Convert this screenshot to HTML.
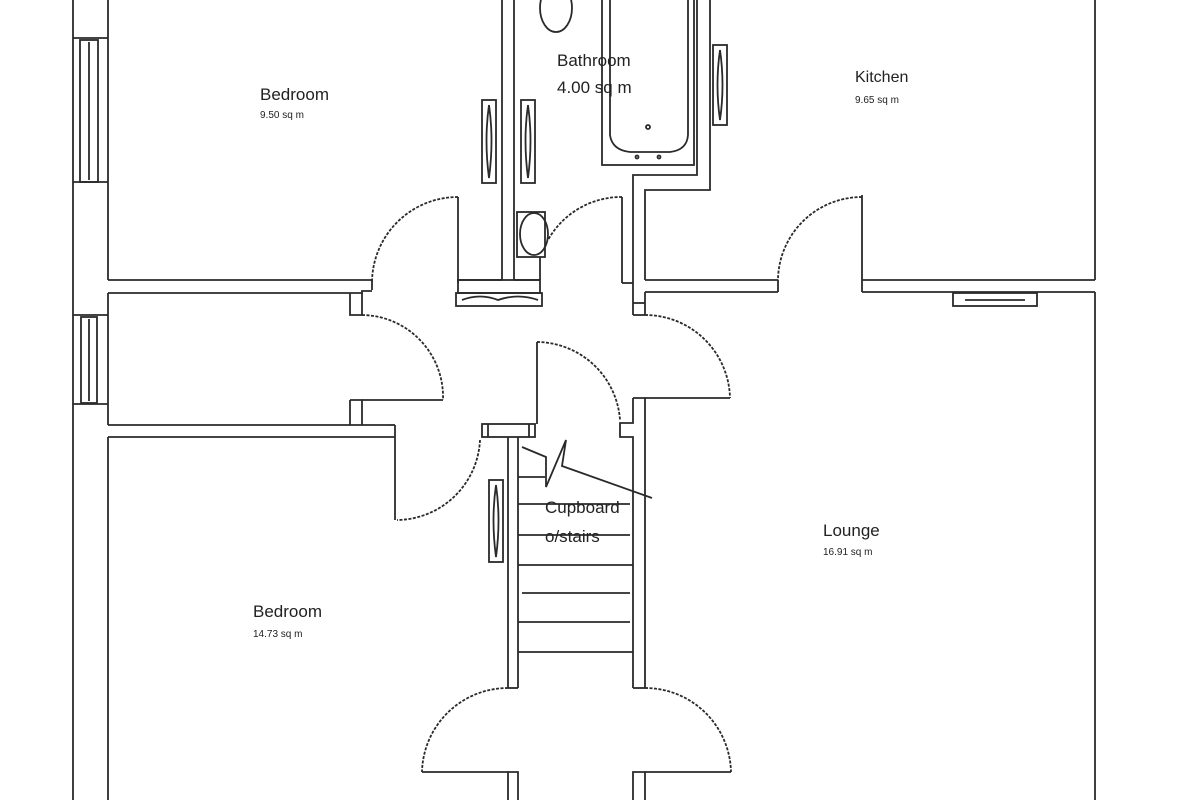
<!DOCTYPE html>
<html><head><meta charset="utf-8"><style>
html,body{margin:0;padding:0;background:#fff;}
svg{display:block;}
text{font-family:"Liberation Sans",sans-serif;fill:#222;}
</style></head><body>
<svg width="1200" height="800" viewBox="0 0 1200 800" xmlns="http://www.w3.org/2000/svg">
<g fill="none" stroke="#2a2a2a" stroke-width="1.8">
<!-- outer left wall -->
<line x1="73" y1="0" x2="73" y2="800"/>
<line x1="108" y1="0" x2="108" y2="280"/>
<line x1="108" y1="293" x2="108" y2="425"/>
<line x1="108" y1="437" x2="108" y2="800"/>
<line x1="73" y1="182" x2="108" y2="182"/>
<line x1="73" y1="38" x2="108" y2="38"/>
<rect x="80" y="40" width="18" height="142"/>
<line x1="89" y1="42" x2="89" y2="180"/>
<line x1="73" y1="315" x2="108" y2="315"/>
<line x1="73" y1="404" x2="108" y2="404"/>
<rect x="81" y="317" width="16" height="86"/>
<line x1="89" y1="319" x2="89" y2="401"/>
<!-- bedroom1 bottom -->
<polyline points="108,280 372,280 372,290"/>
<polyline points="108,293 362,293 362,291 372,291"/>
<polyline points="350,293 350,315 362,315 362,293"/>
<!-- bedroom1 door -->
<line x1="458" y1="197" x2="458" y2="283"/>
<path d="M458,197 A86,86 0 0 0 372,283" stroke-dasharray="3,1.5"/>
<!-- bedroom/bathroom walls -->
<line x1="502" y1="0" x2="502" y2="280"/>
<line x1="514" y1="0" x2="514" y2="280"/>
<line x1="458" y1="280" x2="502" y2="280"/>
<line x1="514" y1="280" x2="540" y2="280"/>
<rect x="458" y="280" width="82" height="13"/>
<rect x="456" y="293" width="86" height="13"/>
<path d="M462,300 Q480,293 498,300 Q518,293 538,300"/>
<!-- radiators in bedroom/bath -->
<rect x="482" y="100" width="14" height="83"/>
<path d="M489,105 Q484,140 489,178 Q494,140 489,105"/>
<rect x="521" y="100" width="14" height="83"/>
<path d="M528,105 Q523,140 528,178 Q533,140 528,105"/>
<!-- sink -->
<rect x="517" y="212" width="28" height="45"/>
<ellipse cx="534" cy="234" rx="14" ry="21"/>
<!-- bathroom door -->
<line x1="622" y1="197" x2="622" y2="283"/>
<path d="M622,197 A84,84 0 0 0 548,240" stroke-dasharray="3,1.5"/>
<line x1="540" y1="257" x2="540" y2="280"/>
<!-- toilet -->
<ellipse cx="556" cy="8" rx="16" ry="24"/>
<!-- bath -->
<rect x="602" y="-5" width="92" height="170"/>
<path d="M610,0 L610,135 Q612,150 630,152 L670,152 Q687,150 688,135 L688,0"/>
<circle cx="648" cy="127" r="2"/>
<circle cx="637" cy="157" r="1.5"/><circle cx="659" cy="157" r="1.5"/>
<!-- bathroom right wall / step -->
<polyline points="697,0 697,175 633,175 633,315"/>
<polyline points="710,0 710,190 645,190 645,280"/>
<rect x="713" y="45" width="14" height="80"/>
<path d="M720,50 Q715,85 720,120 Q725,85 720,50"/>
<line x1="622" y1="283" x2="633" y2="283"/>
<line x1="633" y1="303" x2="645" y2="303"/>
<line x1="633" y1="315" x2="645" y2="315"/>
<line x1="645" y1="292" x2="645" y2="315"/>
<!-- kitchen bottom -->
<line x1="645" y1="280" x2="778" y2="280"/>
<line x1="645" y1="292" x2="778" y2="292"/>
<line x1="778" y1="280" x2="778" y2="292"/>
<line x1="862" y1="195" x2="862" y2="292"/>
<path d="M862,197 A84,84 0 0 0 778,280" stroke-dasharray="3,1.5"/>
<line x1="862" y1="280" x2="1095" y2="280"/>
<line x1="862" y1="292" x2="1095" y2="292"/>
<line x1="1095" y1="0" x2="1095" y2="280"/>
<line x1="1095" y1="292" x2="1095" y2="800"/>
<rect x="953" y="293" width="84" height="13"/>
<line x1="965" y1="300" x2="1025" y2="300"/>
<!-- lounge door -->
<path d="M645,315 A85,85 0 0 1 730,398" stroke-dasharray="3,1.5"/>
<line x1="645" y1="398" x2="730" y2="398"/>
<polyline points="633,398 645,398 645,688"/>
<polyline points="633,398 633,423 620,423 620,437 633,437 633,688"/>
<line x1="633" y1="688" x2="645" y2="688"/>
<!-- middle room door -->
<path d="M362,315 A82,82 0 0 1 443,400" stroke-dasharray="3,1.5"/>
<line x1="362" y1="400" x2="443" y2="400"/>
<polyline points="350,400 362,400 362,425"/>
<polyline points="350,400 350,425"/>
<line x1="108" y1="425" x2="388" y2="425"/>
<line x1="108" y1="437" x2="395" y2="437"/>
<line x1="388" y1="425" x2="395" y2="425"/>
<!-- bedroom2 door -->
<line x1="395" y1="425" x2="395" y2="520"/>
<path d="M480,440 A84,84 0 0 1 397,520" stroke-dasharray="3,1.5"/>
<!-- stair T -->
<rect x="482" y="424" width="53" height="13"/>
<line x1="488" y1="424" x2="488" y2="437"/><line x1="529" y1="424" x2="529" y2="437"/>
<line x1="508" y1="437" x2="508" y2="688"/>
<line x1="518" y1="437" x2="518" y2="688"/>
<line x1="508" y1="688" x2="518" y2="688"/>
<!-- closet door -->
<line x1="537" y1="342" x2="537" y2="424"/>
<path d="M537,342 A84,84 0 0 1 620,420" stroke-dasharray="3,1.5"/>
<!-- stair treads -->
<line x1="518" y1="477" x2="545" y2="477"/>
<line x1="518" y1="504" x2="630" y2="504"/>
<line x1="518" y1="535" x2="630" y2="535"/>
<line x1="518" y1="565" x2="633" y2="565"/>
<line x1="522" y1="593" x2="630" y2="593"/>
<line x1="518" y1="622" x2="630" y2="622"/>
<line x1="518" y1="652" x2="633" y2="652"/>
<polyline points="522,447 546,457 546,487 566,440 562,466 652,498"/>
<!-- radiator by stairs -->
<rect x="489" y="480" width="14" height="82"/>
<path d="M496,485 Q491,520 496,557 Q501,520 496,485"/>
<!-- front doors -->
<path d="M508,688 A86,86 0 0 0 422,772" stroke-dasharray="3,1.5"/>
<line x1="422" y1="772" x2="508" y2="772"/>
<path d="M645,688 A86,86 0 0 1 731,772" stroke-dasharray="3,1.5"/>
<line x1="645" y1="772" x2="731" y2="772"/>
<polyline points="508,800 508,772 518,772 518,800"/>
<polyline points="633,800 633,772 645,772 645,800"/>
</g>
<text x="260" y="100" font-size="17">Bedroom</text>
<text x="260" y="118" font-size="10">9.50 sq m</text>
<text x="557" y="66" font-size="17">Bathroom</text>
<text x="557" y="93" font-size="17">4.00 sq m</text>
<text x="855" y="82" font-size="16">Kitchen</text>
<text x="855" y="103" font-size="10">9.65 sq m</text>
<text x="823" y="536" font-size="17">Lounge</text>
<text x="823" y="555" font-size="10">16.91 sq m</text>
<text x="253" y="617" font-size="17">Bedroom</text>
<text x="253" y="637" font-size="10">14.73 sq m</text>
<text x="545" y="513" font-size="17">Cupboard</text>
<text x="545" y="542" font-size="17">o/stairs</text>
</svg>
</body></html>
